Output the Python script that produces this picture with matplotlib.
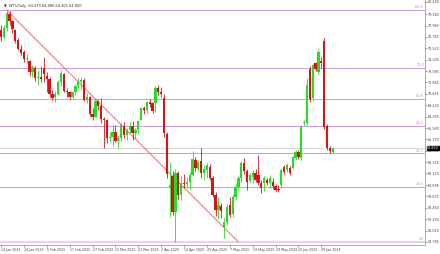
import matplotlib.pyplot as plt
import matplotlib.transforms as mtransforms

# daily bars, left to right (prices)
opens = [77.5, 76.7, 77.7, 79.2, 78.4, 77.5, 76.4, 75.5, 75.1, 74.4,
         74.2, 73.0, 73.4, 72.3, 72.4, 73.4, 72.6, 72.2, 70.6, 70.3,
         70.6, 71.9, 72.8, 71.0, 70.9, 70.3, 70.8, 71.5, 71.9, 72.1,
         70.0, 70.3, 68.5, 68.2, 69.9, 69.4, 68.0, 67.9, 65.9, 66.0,
         66.6, 65.6, 65.9, 67.2, 66.2, 66.8, 67.2, 66.5, 66.8, 67.9,
         69.1, 68.9, 69.8, 69.7, 69.7, 71.3, 70.9, 70.2, 66.4, 60.6,
         61.9, 58.0, 62.2, 59.8, 61.1, 61.0, 61.2, 62.0, 63.6, 62.6,
         63.5, 62.2, 62.5, 62.8, 61.6, 59.8, 58.2, 58.6, 56.4, 56.9,
         58.7, 57.8, 59.6, 60.7, 61.6, 63.2, 62.4, 61.3, 61.7, 62.2,
         62.0, 61.1, 61.1, 61.4, 61.1, 61.2, 60.8, 60.5, 60.9, 62.8,
         62.5, 62.7, 62.7, 63.8, 64.4, 63.8, 67.5, 67.5, 73.3, 70.2,
         73.9, 73.0, 74.2, 76.3, 67.2, 64.9, 64.473]
highs = [78.0, 78.0, 79.6, 79.5, 78.6, 77.6, 76.6, 75.9, 75.3, 74.9,
         74.3, 73.7, 73.6, 73.2, 73.6, 74.6, 73.0, 72.5, 71.1, 71.0,
         72.1, 73.2, 72.9, 71.3, 71.0, 71.0, 71.6, 72.3, 72.4, 72.3,
         70.7, 70.4, 69.1, 70.1, 70.0, 70.2, 68.2, 68.0, 66.6, 67.3,
         67.3, 66.2, 67.6, 67.6, 67.0, 67.6, 67.7, 67.0, 67.7, 69.2,
         69.4, 69.9, 70.1, 69.8, 71.5, 71.6, 71.4, 70.6, 66.6, 63.3,
         62.4, 62.6, 62.4, 61.9, 62.1, 61.7, 62.3, 64.5, 63.9, 63.6,
         64.9, 63.0, 63.2, 63.1, 61.8, 60.1, 59.6, 59.0, 57.3, 58.9,
         59.6, 59.9, 61.0, 61.9, 63.5, 63.8, 62.6, 62.2, 62.5, 62.6,
         64.1, 61.4, 61.8, 61.6, 62.0, 61.6, 61.0, 60.9, 62.7, 63.0,
         63.2, 62.9, 64.0, 64.6, 64.6, 67.3, 67.9, 72.3, 73.6, 74.0,
         74.1, 75.4, 74.6, 76.6, 67.4, 65.1, 64.886]
lows = [76.3, 76.5, 77.4, 78.0, 77.2, 76.1, 75.3, 74.8, 74.1, 73.9,
        72.6, 72.5, 72.0, 71.6, 71.9, 71.9, 70.9, 70.3, 70.0, 69.8,
        70.5, 71.5, 70.8, 70.3, 70.1, 70.2, 70.5, 71.2, 71.2, 69.9,
        69.7, 68.3, 67.9, 68.2, 68.9, 67.5, 64.8, 65.4, 65.5, 65.1,
        65.5, 64.8, 65.6, 65.9, 65.7, 66.5, 65.7, 65.9, 66.5, 67.8,
        68.5, 68.6, 69.2, 68.6, 68.7, 70.5, 70.3, 66.0, 61.6, 57.5,
        57.7, 54.8, 59.3, 59.3, 60.6, 60.6, 60.4, 61.9, 62.4, 62.4,
        61.6, 61.4, 61.6, 61.4, 59.6, 57.6, 57.2, 57.4, 55.2, 56.6,
        57.5, 57.5, 59.4, 60.4, 61.2, 62.1, 60.3, 61.1, 61.1, 61.2,
        60.9, 60.0, 60.2, 60.9, 60.6, 60.5, 60.2, 60.1, 60.6, 62.1,
        62.3, 62.0, 62.6, 63.6, 63.7, 63.6, 67.2, 67.3, 69.8, 69.9,
        73.1, 72.8, 73.4, 66.9, 64.6, 64.3, 64.365]
closes = [76.7, 77.7, 79.3, 78.4, 77.6, 76.3, 75.5, 75.0, 74.4, 74.5,
          73.0, 73.5, 72.3, 72.4, 72.2, 72.8, 72.2, 70.6, 70.2, 70.6,
          71.9, 72.9, 71.0, 70.9, 70.3, 70.8, 71.5, 71.9, 72.1, 70.0,
          70.3, 68.5, 68.2, 69.9, 69.4, 68.0, 67.9, 65.9, 66.0, 66.6,
          65.6, 65.9, 67.3, 66.2, 66.8, 67.2, 66.5, 66.8, 67.7, 69.1,
          68.9, 69.8, 69.6, 68.8, 71.3, 70.9, 70.6, 66.5, 62.1, 60.9,
          58.0, 62.2, 59.8, 61.1, 61.0, 61.2, 62.0, 63.7, 62.7, 63.4,
          62.2, 62.6, 63.0, 61.6, 59.8, 58.2, 58.7, 58.1, 56.9, 58.5,
          57.7, 59.6, 60.7, 61.6, 63.2, 62.4, 61.2, 62.0, 62.2, 61.4,
          61.1, 60.6, 61.6, 61.1, 61.6, 60.8, 60.4, 60.3, 62.5, 62.3,
          63.0, 62.2, 63.9, 64.4, 63.9, 67.1, 67.6, 71.6, 70.1, 73.7,
          73.3, 75.1, 73.9, 67.1, 64.9, 64.5, 64.850]

date_labels = ["14 Jan 2025", "24 Jan 2025", "5 Feb 2025", "17 Feb 2025",
               "27 Feb 2025", "11 Mar 2025", "21 Mar 2025", "2 Apr 2025",
               "14 Apr 2025", "25 Apr 2025", "7 May 2025", "19 May 2025",
               "29 May 2025", "10 Jun 2025", "20 Jun 2025"]
label_step = 8

price_ticks = [54.785, 56.010, 57.230, 58.460, 59.675, 60.885, 62.120,
               63.335, 64.550, 65.770, 66.990, 68.205, 69.430, 70.645,
               71.865, 73.085, 74.305, 75.520, 76.745, 77.960, 79.180,
               80.490]

fib_levels = [0.0, 23.6, 38.2, 50.0, 61.8, 75.0, 100.0]
fib_low, fib_high = 54.785, 79.62
trend_x = [2, 83]
trend_y = [79.6, 54.785]
last_price = closes[-1]

bull = "#22dd22"
bear = "#e01010"
fib_color = "#c58be0"

fig = plt.figure(figsize=(4.4, 2.54), dpi=100)
ax = fig.add_axes([0, 9 / 254, 425 / 440, 245 / 254])
ax.set_xlim(-0.35, 148.25)
ax.set_ylim(54.46, 80.7)

# fibonacci levels
for lvl in fib_levels:
    p = fib_low + (fib_high - fib_low) * lvl / 100
    lw = 1.6 if lvl == 0 else 0.6
    col = "#ecd3f2" if lvl == 0 else fib_color
    ax.axhline(p, color=col, lw=lw, zorder=1)
    ax.text(147.8, p + 0.08, f"{lvl:.1f}", color=fib_color, fontsize=2.4,
            ha="right", va="bottom", zorder=2)

# current price line
ax.axhline(last_price, color="#c8c8c8", lw=0.5, zorder=1)

# trend line
ax.plot(trend_x, trend_y, color="#e05050", lw=0.55, zorder=2)

# candles
for i in range(len(opens)):
    o, h, l, c = opens[i], highs[i], lows[i], closes[i]
    col = bull if c >= o else bear
    ax.vlines(i, l, h, color=col, lw=0.6, zorder=3)
    body = max(abs(c - o), 0.06)
    ax.bar(i, body, bottom=min(o, c), width=0.8, color=col, lw=0, zorder=4)

# axes styling
for s in ["top", "left"]:
    ax.spines[s].set_visible(False)
for s in ["right", "bottom"]:
    ax.spines[s].set_color("#a0a0a0")
    ax.spines[s].set_linewidth(0.6)

ax.yaxis.tick_right()
ax.set_yticks(price_ticks)
ax.set_yticklabels([f"{v:.3f}" for v in price_ticks])
ax.tick_params(axis="y", labelsize=2.4, length=1.2, width=0.4, pad=0.6,
               colors="#444444")

ax.set_xticks([k * label_step for k in range(len(date_labels))])
ax.set_xticklabels(date_labels, ha="left")
ax.tick_params(axis="x", labelsize=2.3, length=1.2, width=0.4, pad=1,
               colors="#444444")

# price box on the right axis
trans = mtransforms.blended_transform_factory(ax.transAxes, ax.transData)
ax.text(1.005, last_price, f"{last_price:.3f}", transform=trans, fontsize=2.4,
        color="white", va="center", ha="left",
        bbox=dict(boxstyle="square,pad=0.12", fc="black", ec="black"))

fig.text(0.008, 0.985, "\u25bc  WTI,Daily  64.473 64.886 64.365 64.850",
         fontsize=2.6, color="#333333", va="top", ha="left")

fig.savefig("out.png", dpi=100)
